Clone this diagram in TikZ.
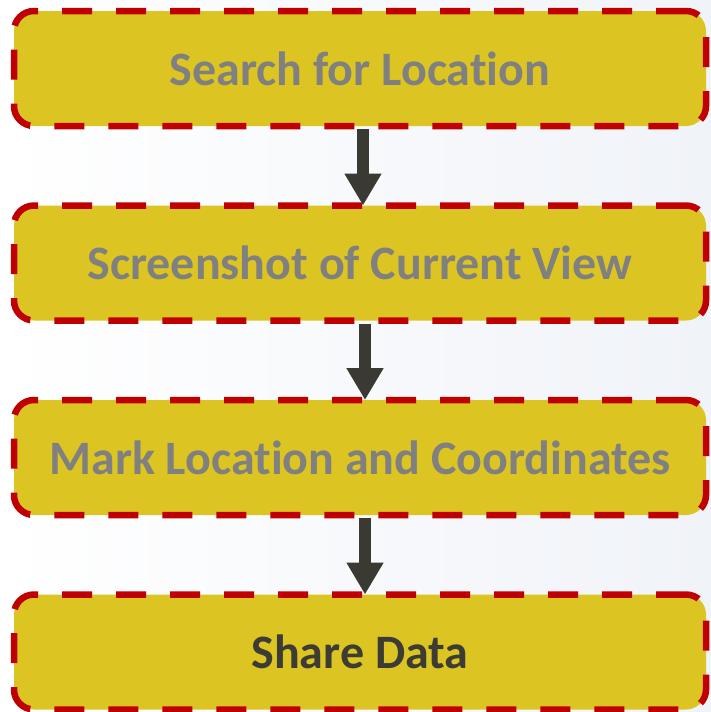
\documentclass[tikz,border=0pt]{standalone}
\usepackage{fontspec}
\setmainfont{Carlito}[Ligatures=NoCommon]
\usetikzlibrary{positioning,arrows.meta}
\definecolor{boxfill}{RGB}{220,197,35}
\definecolor{boxline}{RGB}{192,0,0}
\definecolor{textgray}{RGB}{128,128,128}
\definecolor{textdark}{RGB}{60,60,52}
\definecolor{arrowdark}{RGB}{58,58,50}
\definecolor{bgright}{RGB}{240,243,248}
\begin{document}
\begin{tikzpicture}[
    stepbox/.style={draw=boxline, fill=boxfill, line width=6.5pt,
      dash pattern=on 30pt off 24pt, rounded corners=20pt,
      minimum width=692pt, minimum height=115pt, outer sep=0pt,
      font=\fontsize{48}{56}\selectfont\bfseries, text=textgray},
    flow/.style={draw=arrowdark, line width=12pt,
      -{Triangle[width=35pt,length=32pt]}},
    node distance=79.5pt
  ]
  \shade[left color=white, right color=bgright] (0pt,0pt) rectangle (711pt,-712pt);
  \useasboundingbox (0pt,0pt) rectangle (711pt,-712pt);
  \node[stepbox] (search) at (360pt,-68.5pt) {Search for Location};
  \node[stepbox, below=of search] (shot) {Screenshot of Current View};
  \node[stepbox, below=of shot] (mark) {Mark Location and Coordinates};
  \node[stepbox, below=of mark, text=textdark] (share) {Share Data};
  \begin{scope}[flow]
    \draw ([xshift=3pt, yshift=-3pt]search.south) to ([xshift=3pt]shot.north);
    \draw ([xshift=5pt, yshift=-3pt]shot.south) to ([xshift=5pt]mark.north);
    \draw ([xshift=5pt, yshift=-3pt]mark.south) to ([xshift=5pt]share.north);
  \end{scope}
\end{tikzpicture}
\end{document}
